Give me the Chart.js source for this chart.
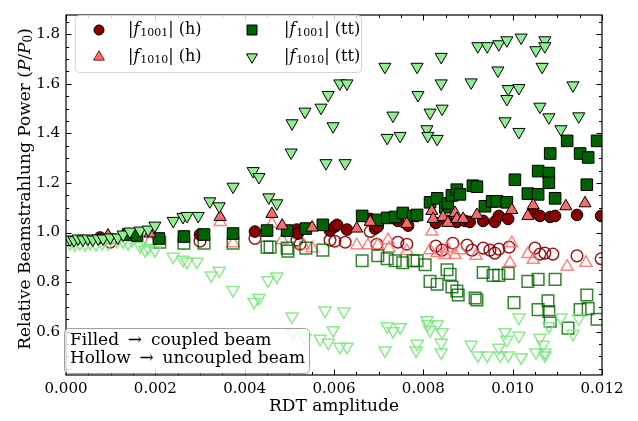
<!DOCTYPE html>
<html><head><meta charset="utf-8">
<script src="https://cdn.jsdelivr.net/npm/chart.js@4.4.0/dist/chart.umd.min.js"></script>
<style>html,body{margin:0;padding:0;background:#fff}</style>
</head><body>
<canvas id="c" width="638" height="421"></canvas>
<script>
// ---------- tick labels ----------
const xTicks = [0.000, 0.002, 0.004, 0.006, 0.008, 0.010, 0.012];
const yTicks = [0.6, 0.8, 1.0, 1.2, 1.4, 1.6, 1.8];
const xMinorStep = 0.0005;
const yMinorStep = 0.05;
const xRange = [0, 0.012];
const yRange = [0.425, 1.878];

// ---------- series: |f1001| (h) ----------
const f1001_h_coupled = [
 [0.00076,0.980],[0.00154,0.988],[0.00300,0.992],[0.00423,1.004],[0.00517,1.012],[0.00519,0.996],
 [0.00591,1.008],[0.00602,1.024],[0.00607,1.031],[0.00629,1.012],[0.00681,1.055],[0.00692,1.016],
 [0.00698,1.024],[0.00743,1.047],[0.00766,1.028],[0.00828,1.039],[0.00853,1.047],[0.00875,1.043],
 [0.00893,1.047],[0.00904,1.043],[0.00934,1.047],[0.00960,1.043],[0.00969,1.067],[0.00990,1.055],
 [0.01046,1.083],[0.01061,1.067],[0.01084,1.063],[0.01095,1.067],[0.01144,1.071],[0.01198,1.067]
];
const f1001_h_uncoupled = [
 [0.00099,0.961],[0.00300,0.965],[0.00423,0.976],[0.00517,0.969],[0.00524,0.953],[0.00591,0.969],
 [0.00602,0.965],[0.00625,0.961],[0.00681,1.004],[0.00696,0.953],[0.00743,0.961],[0.00763,0.953],
 [0.00828,0.945],[0.00842,0.929],[0.00866,0.957],[0.00898,0.949],[0.00909,0.929],[0.00934,0.937],
 [0.00949,0.929],[0.00960,0.917],[0.00969,0.933],[0.00992,0.941],[0.01050,0.937],[0.01061,0.913],
 [0.01072,0.917],[0.01090,0.913],[0.01144,0.906],[0.01198,0.894]
];
// ---------- series: |f1010| (h) ----------
const f1010_h_coupled = [
 [0.00094,0.988],[0.00188,0.996],[0.00345,1.063],[0.00461,1.075],[0.00484,1.028],[0.00551,1.020],
 [0.00651,1.016],[0.00681,1.043],[0.00763,1.035],[0.00819,1.087],[0.00822,1.055],[0.00844,1.063],
 [0.00855,1.039],[0.00871,1.079],[0.00875,1.055],[0.00889,1.055],[0.00920,1.071],[0.00998,1.091],
 [0.01034,1.067],[0.01046,1.110],[0.01119,1.106],[0.01162,1.118]
];
const f1010_h_uncoupled = [
 [0.00103,0.969],[0.00188,0.965],[0.00345,1.043],[0.00374,0.957],[0.00461,1.035],[0.00484,0.969],
 [0.00531,0.949],[0.00551,0.937],[0.00651,0.949],[0.00676,0.949],[0.00698,0.949],[0.00721,0.969],
 [0.00723,0.937],[0.00763,0.925],[0.00819,1.004],[0.00815,0.929],[0.00831,0.917],[0.00849,0.909],
 [0.00853,0.937],[0.00871,0.909],[0.00882,0.929],[0.00918,0.906],[0.00998,0.957],[0.00994,0.878],
 [0.01034,0.913],[0.01046,0.890],[0.01122,0.862],[0.01164,0.878]
];
// ---------- series: |f1001| (tt) ----------
const f1001_tt_coupled = [
 [0.00139,0.992],[0.00159,0.988],[0.00208,0.976],[0.00264,0.984],[0.00309,0.992],[0.00374,0.996],
 [0.00450,1.008],[0.00495,1.008],[0.00537,1.016],[0.00575,1.031],[0.00663,1.067],[0.00698,1.051],
 [0.00719,1.059],[0.00737,1.063],[0.00754,1.079],[0.00777,1.067],[0.00786,1.071],[0.00815,1.122],
 [0.00831,1.138],[0.00849,1.102],[0.00855,1.118],[0.00864,1.150],[0.00875,1.173],[0.00882,1.154],
 [0.00911,1.189],[0.00920,1.185],[0.00938,1.106],[0.00954,1.126],[0.00965,1.126],[0.00987,1.122],
 [0.01005,1.213],[0.01034,1.157],[0.01057,1.154],[0.01057,1.248],[0.01081,1.240],[0.01081,1.201],
 [0.01084,1.319],[0.01095,1.138],[0.01122,1.370],[0.01151,1.319],[0.01169,1.303],[0.01166,1.193],
 [0.01189,1.370]
];
const f1001_tt_uncoupled = [
 [0.00210,0.961],[0.00264,0.957],[0.00309,0.957],[0.00374,0.957],[0.00450,0.941],[0.00457,0.941],
 [0.00495,0.937],[0.00497,0.925],[0.00537,0.937],[0.00575,0.929],[0.00663,0.886],[0.00698,0.906],
 [0.00719,0.894],[0.00737,0.886],[0.00754,0.878],[0.00777,0.886],[0.00786,0.886],[0.00804,0.870],
 [0.00815,0.803],[0.00831,0.791],[0.00853,0.850],[0.00860,0.831],[0.00864,0.780],[0.00875,0.764],
 [0.00878,0.748],[0.00916,0.736],[0.00920,0.728],[0.00934,0.839],[0.00956,0.827],[0.00969,0.827],
 [0.00990,0.835],[0.01003,0.717],[0.01034,0.803],[0.01057,0.811],[0.01095,0.811],[0.01057,0.689],
 [0.01079,0.724],[0.01081,0.681],[0.01084,0.642],[0.01124,0.614],[0.01151,0.689],[0.01166,0.748],
 [0.01169,0.693],[0.01189,0.650]
];
// ---------- series: |f1010| (tt) ----------
const f1010_tt_coupled = [
 [0.00009,0.972],[0.00018,0.969],[0.00027,0.976],[0.00038,0.972],[0.00049,0.976],[0.00060,0.972],
 [0.00072,0.976],[0.00083,0.976],[0.00099,0.980],[0.00116,0.980],[0.00128,0.992],[0.00143,1.004],
 [0.00166,1.008],[0.00184,1.012],[0.00199,1.028],[0.00240,1.047],[0.00262,1.063],[0.00271,1.067],
 [0.00296,1.067],[0.00322,1.126],[0.00343,1.106],[0.00374,1.185],[0.00419,1.248],[0.00432,1.224],
 [0.00454,1.142],[0.00472,1.118],[0.00504,1.323],[0.00506,1.441],[0.00535,1.488],[0.00571,1.504],
 [0.00582,1.280],[0.00587,1.555],[0.00598,1.429],[0.00613,1.602],[0.00629,1.602],[0.00625,1.280],
 [0.00714,1.669],[0.00719,1.382],[0.00732,1.472],[0.00748,1.390],[0.00786,1.669],[0.00788,1.555],
 [0.00808,1.417],[0.00810,1.390],[0.00815,1.484],[0.00831,1.378],[0.00840,1.709],[0.00840,1.602],
 [0.00842,1.500],[0.00907,1.606],[0.00922,1.752],[0.00943,1.752],[0.00967,1.654],[0.00969,1.760],
 [0.00983,1.449],[0.00987,1.776],[0.00987,1.539],[0.00990,1.579],[0.01014,1.583],[0.01014,1.406],
 [0.01019,1.787],[0.01052,1.736],[0.01061,1.508],[0.01066,1.669],[0.01072,1.776],[0.01072,1.752],
 [0.01081,1.465],[0.01108,1.417],[0.01135,1.594],[0.01148,1.469]
];
const f1010_tt_uncoupled = [
 [0.00009,0.957],[0.00020,0.953],[0.00031,0.957],[0.00043,0.953],[0.00054,0.957],[0.00067,0.953],
 [0.00081,0.957],[0.00094,0.957],[0.00114,0.965],[0.00128,0.965],[0.00139,0.957],[0.00148,0.969],
 [0.00166,0.945],[0.00177,0.929],[0.00184,0.937],[0.00199,0.929],[0.00240,0.902],[0.00262,0.890],
 [0.00271,0.882],[0.00293,0.882],[0.00325,0.827],[0.00343,0.846],[0.00374,0.768],[0.00421,0.720],
 [0.00432,0.736],[0.00452,0.807],[0.00472,0.823],[0.00506,0.661],[0.00508,0.594],[0.00535,0.575],
 [0.00569,0.571],[0.00580,0.685],[0.00598,0.606],[0.00587,0.555],[0.00622,0.681],[0.00613,0.539],
 [0.00629,0.539],[0.00714,0.524],[0.00719,0.622],[0.00732,0.602],[0.00748,0.618],[0.00786,0.551],
 [0.00784,0.524],[0.00808,0.646],[0.00810,0.630],[0.00815,0.606],[0.00831,0.630],[0.00842,0.598],
 [0.00840,0.555],[0.00840,0.516],[0.00907,0.547],[0.00922,0.504],[0.00943,0.504],[0.00969,0.535],
 [0.00972,0.504],[0.00983,0.598],[0.00987,0.567],[0.00990,0.504],[0.01014,0.657],[0.01014,0.583],
 [0.01019,0.496],[0.01052,0.516],[0.01061,0.575],[0.01068,0.547],[0.01072,0.516],[0.01072,0.504],
 [0.01081,0.622],[0.01108,0.657],[0.01135,0.591],[0.01148,0.654]
];

// ---------- styles ----------
const C_DARKRED = '#8B0000', C_LRED = '#F76B6B', C_DGREEN = '#006400', C_LGREEN = '#90EE90';
const SERIF = 'DejaVu Serif';
const R_CIRC = 5.8, R_RECT = 8.2, R_TRI = 7;
const toPts = arr => arr.map(p => ({x: p[0], y: p[1]}));

function ds(data, style, radius, fill, edge, bw, rot, order) {
  return {data: toPts(data), pointStyle: style, pointRadius: radius, pointHoverRadius: radius,
    pointRotation: rot || 0, backgroundColor: fill, borderColor: edge, borderWidth: bw,
    showLine: false, clip: 0, order: order};
}
// higher order = drawn first (below)
const datasets = [
  ds(f1001_h_uncoupled, 'circle', R_CIRC, 'rgba(0,0,0,0)', 'rgba(139,0,0,0.9)', 1.5, 0, 8),
  ds(f1010_h_uncoupled, 'triangle', R_TRI, 'rgba(0,0,0,0)', 'rgba(255,110,110,0.85)', 1.5, 0, 7),
  ds(f1001_tt_uncoupled, 'rect', R_RECT, 'rgba(0,0,0,0)', 'rgba(0,100,0,0.8)', 1.5, 0, 6),
  ds(f1010_tt_uncoupled, 'triangle', R_TRI, 'rgba(0,0,0,0)', 'rgba(130,230,130,0.9)', 1.5, 180, 5),
  ds(f1001_h_coupled, 'circle', R_CIRC, C_DARKRED, '#000', 1, 0, 4),
  ds(f1001_tt_coupled, 'rect', R_RECT, C_DGREEN, '#000', 1, 0, 3),
  ds(f1010_h_coupled, 'triangle', R_TRI, C_LRED, '#000', 1, 0, 2),
  ds(f1010_tt_coupled, 'triangle', R_TRI, C_LGREEN, '#000', 1, 180, 1)
];

function minorValues(range, step) {
  const out = [];
  const start = Math.ceil(range[0] / step - 1e-9);
  for (let i = start; i * step <= range[1] + 1e-12; i++) out.push(i * step);
  return out;
}

function roundRect(ctx, x, y, w, h, r) {
  ctx.beginPath();
  ctx.moveTo(x + r, y);
  ctx.lineTo(x + w - r, y); ctx.quadraticCurveTo(x + w, y, x + w, y + r);
  ctx.lineTo(x + w, y + h - r); ctx.quadraticCurveTo(x + w, y + h, x + w - r, y + h);
  ctx.lineTo(x + r, y + h); ctx.quadraticCurveTo(x, y + h, x, y + h - r);
  ctx.lineTo(x, y + r); ctx.quadraticCurveTo(x, y, x + r, y);
  ctx.closePath();
}

function marker(ctx, kind, x, y, fill, edge, lw) {
  ctx.save();
  ctx.fillStyle = fill; ctx.strokeStyle = edge; ctx.lineWidth = lw;
  ctx.beginPath();
  if (kind === 'circle') ctx.arc(x, y, 5, 0, Math.PI * 2);
  else if (kind === 'square') ctx.rect(x - 5, y - 5, 10, 10);
  else if (kind === 'up') { const r = 6.3; ctx.moveTo(x, y - r); ctx.lineTo(x + r * 0.866, y + r / 2); ctx.lineTo(x - r * 0.866, y + r / 2); ctx.closePath(); }
  else { const r = 6.3; ctx.moveTo(x, y + r); ctx.lineTo(x + r * 0.866, y - r / 2); ctx.lineTo(x - r * 0.866, y - r / 2); ctx.closePath(); }
  ctx.fill(); ctx.stroke();
  ctx.restore();
}

// draws |f_sub| suffix as rich text
function rdtLabel(ctx, x, y, sub, suffix) {
  ctx.save();
  ctx.fillStyle = '#000'; ctx.textBaseline = 'middle'; ctx.textAlign = 'left';
  const parts = [
    {t: '|', f: `16px "${SERIF}"`, dy: 0},
    {t: 'f', f: `italic 16px "${SERIF}"`, dy: 0},
    {t: sub, f: `11px "${SERIF}"`, dy: 3},
    {t: '|', f: `16px "${SERIF}"`, dy: 0},
    {t: ' ' + suffix, f: `16px "${SERIF}"`, dy: 0}
  ];
  let cx = x;
  for (const p of parts) {
    ctx.font = p.f; ctx.fillText(p.t, cx, y + p.dy);
    cx += ctx.measureText(p.t).width + (p.t === 'f' ? 1 : 0);
  }
  ctx.restore();
}

const decorPlugin = {
  id: 'decor',
  afterDatasetsDraw(chart) {
    const {ctx, chartArea: a, scales: {x, y}} = chart;
    ctx.save();
    ctx.strokeStyle = '#000'; ctx.lineWidth = 1;
    ctx.beginPath();
    const xm = minorValues(xRange, xMinorStep), ym = minorValues(yRange, yMinorStep);
    xm.forEach(v => { const p = Math.round(x.getPixelForValue(v)) + 0.5; ctx.moveTo(p, a.bottom); ctx.lineTo(p, a.bottom - 3); ctx.moveTo(p, a.top); ctx.lineTo(p, a.top + 3); });
    xTicks.forEach(v => { const p = Math.round(x.getPixelForValue(v)) + 0.5; ctx.moveTo(p, a.bottom); ctx.lineTo(p, a.bottom - 5.5); ctx.moveTo(p, a.top); ctx.lineTo(p, a.top + 5.5); });
    ym.forEach(v => { const p = Math.round(y.getPixelForValue(v)) + 0.5; ctx.moveTo(a.left, p); ctx.lineTo(a.left + 3, p); ctx.moveTo(a.right, p); ctx.lineTo(a.right - 3, p); });
    yTicks.forEach(v => { const p = Math.round(y.getPixelForValue(v)) + 0.5; ctx.moveTo(a.left, p); ctx.lineTo(a.left + 5.5, p); ctx.moveTo(a.right, p); ctx.lineTo(a.right - 5.5, p); });
    ctx.stroke();
    ctx.lineWidth = 1.2;
    ctx.strokeRect(a.left, a.top, a.right - a.left, a.bottom - a.top);
    ctx.restore();
  },
  afterDraw(chart) {
    const ctx = chart.ctx;
    // legend
    ctx.save();
    roundRect(ctx, 75.5, 15.5, 286, 57, 4);
    ctx.fillStyle = 'rgba(255,255,255,0.8)'; ctx.fill();
    ctx.strokeStyle = '#d6d6d6'; ctx.lineWidth = 1; ctx.stroke();
    marker(ctx, 'circle', 99, 30, C_DARKRED, '#000', 1);
    marker(ctx, 'up', 99, 57, C_LRED, '#7a2020', 1);
    marker(ctx, 'square', 252, 30, C_DGREEN, '#000', 1);
    marker(ctx, 'down', 252, 57, C_LGREEN, '#000', 1);
    rdtLabel(ctx, 128, 30, '1001', '(h)');
    rdtLabel(ctx, 128, 57, '1010', '(h)');
    rdtLabel(ctx, 284, 30, '1001', '(tt)');
    rdtLabel(ctx, 284, 57, '1010', '(tt)');
    // note box
    roundRect(ctx, 64.5, 328.5, 245, 45, 5);
    ctx.fillStyle = 'rgba(255,255,255,0.8)'; ctx.fill();
    ctx.strokeStyle = '#a0a0a0'; ctx.lineWidth = 1; ctx.stroke();
    ctx.fillStyle = '#000'; ctx.font = `17px "${SERIF}"`; ctx.textBaseline = 'middle';
    ctx.fillText('Filled \u2009\u2192\u2009 coupled beam', 70, 341);
    ctx.fillText('Hollow \u2009\u2192\u2009 uncoupled beam', 70, 359);
    // y axis title
    ctx.translate(26, 189); ctx.rotate(-Math.PI / 2);
    const parts = [
      {t: 'Relative Beamstrahlung Power (', f: `17px "${SERIF}"`, dy: 0},
      {t: 'P', f: `italic 17px "${SERIF}"`, dy: 0},
      {t: '/', f: `17px "${SERIF}"`, dy: 0},
      {t: 'P', f: `italic 17px "${SERIF}"`, dy: 0},
      {t: '0', f: `12px "${SERIF}"`, dy: 3},
      {t: ')', f: `17px "${SERIF}"`, dy: 0}
    ];
    let w = 0;
    parts.forEach(p => { ctx.font = p.f; w += ctx.measureText(p.t).width; });
    let cx = -w / 2;
    ctx.textBaseline = 'middle'; ctx.textAlign = 'left';
    parts.forEach(p => { ctx.font = p.f; ctx.fillText(p.t, cx, p.dy); cx += ctx.measureText(p.t).width; });
    ctx.restore();
  }
};

new Chart(document.getElementById('c'), {
  type: 'scatter',
  data: {datasets},
  options: {
    responsive: false, animation: false, events: [],
    layout: {padding: {left: 0, right: 36, top: 6, bottom: 0}},
    plugins: {legend: {display: false}, tooltip: {enabled: false}},
    scales: {
      x: {
        type: 'linear', min: xRange[0], max: xRange[1],
        afterBuildTicks: s => { s.ticks = xTicks.map(v => ({value: v})); },
        afterFit: s => { s.height = 46; },
        grid: {display: false, drawTicks: false}, border: {display: false},
        ticks: {font: {family: SERIF, size: 15}, color: '#000', padding: 5, maxRotation: 0, autoSkip: false,
          callback: v => Number(v).toFixed(3)},
        title: {display: true, text: 'RDT amplitude', font: {family: SERIF, size: 17}, color: '#000', padding: {top: 0, bottom: 4}}
      },
      y: {
        type: 'linear', min: yRange[0], max: yRange[1],
        afterBuildTicks: s => { s.ticks = yTicks.map(v => ({value: v})); },
        afterFit: s => { s.width = 66; },
        grid: {display: false, drawTicks: false}, border: {display: false},
        ticks: {font: {family: SERIF, size: 15}, color: '#000', padding: 6, autoSkip: false,
          callback: v => Number(v).toFixed(1)}
      }
    }
  },
  plugins: [decorPlugin]
});
</script>
</body></html>
